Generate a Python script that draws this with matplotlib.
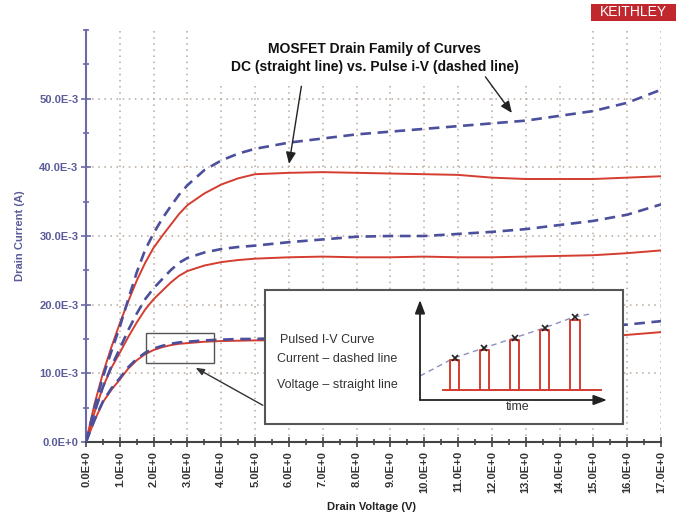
import numpy as np
import matplotlib.pyplot as plt
from matplotlib.patches import Rectangle
from matplotlib.ticker import MultipleLocator, FixedLocator

plt.rcParams['font.family'] = ['Liberation Sans', 'DejaVu Sans']

# Drain voltage (V) and drain currents (mA)
vd = [0, 0.25, 0.5, 0.75, 1, 1.25, 1.5, 1.75, 2, 2.25, 2.5, 2.75, 3, 3.5, 4, 4.5, 5,
      6, 7, 8, 9, 10, 11, 12, 13, 14, 15, 16, 17]
dc_high = [0, 5.5, 10.0, 13.8, 17.3, 20.5, 23.5, 26.1, 28.3, 30.0, 31.6, 33.2, 34.5, 36.2,
           37.5, 38.4, 39.0,
           39.2, 39.3, 39.2, 39.1, 39.0, 38.9, 38.5, 38.3, 38.3, 38.3, 38.5, 38.7]
pulse_high = [0, 5.0, 9.5, 13.2, 16.8, 20.8, 24.7, 28.0, 30.4, 32.5, 34.3, 36.0, 37.4, 39.6,
              41.0, 42.0, 42.7,
              43.6, 44.2, 44.8, 45.2, 45.6, 46.0, 46.4, 46.8, 47.5, 48.2, 49.4, 51.3]
dc_mid = [0, 4.3, 8.0, 10.8, 13.0, 15.3, 17.4, 19.3, 20.8, 22.0, 23.2, 24.2, 24.9, 25.7,
          26.2, 26.5, 26.7,
          26.9, 27.0, 26.9, 26.9, 27.0, 26.9, 26.9, 27.0, 27.1, 27.2, 27.5, 27.9]
pulse_mid = [0, 4.3, 8.0, 11.0, 13.6, 16.3, 18.7, 20.8, 22.4, 23.7, 25.0, 26.1, 26.8, 27.6,
             28.1, 28.4, 28.6,
             29.1, 29.5, 29.9, 30.0, 30.0, 30.3, 30.6, 31.0, 31.6, 32.2, 33.1, 34.6]
dc_low = [0, 3.1, 5.8, 7.6, 9.1, 10.7, 11.9, 12.8, 13.4, 13.8, 14.1, 14.3, 14.4, 14.6,
          14.7, 14.75, 14.8,
          14.8, 14.8, 14.8, 14.9, 14.9, 15.0, 15.0, 15.1, 15.1, 15.2, 15.6, 16.0]
pulse_low = [0, 3.2, 5.9, 7.8, 9.3, 10.9, 12.1, 13.0, 13.6, 14.0, 14.3, 14.5, 14.6, 14.8,
             14.9, 15.0, 15.0,
             15.2, 15.3, 15.4, 15.5, 15.6, 15.8, 16.0, 16.2, 16.5, 16.8, 17.1, 17.6]

x_ticks = list(range(0, 18))
x_labels = ['%d.0E+0' % v for v in x_ticks]
y_ticks = [0, 10, 20, 30, 40, 50]
y_labels = ['0.0E+0', '10.0E-3', '20.0E-3', '30.0E-3', '40.0E-3', '50.0E-3']

# pulse sketch in the inset (arbitrary units)
pulse_start = [30, 59.5, 90, 120, 150]
pulse_width = [8.5, 9, 9, 8.5, 9.5]
pulse_top = [40, 50, 60, 70, 80]
pulse_base = 10
base_range = [22.7, 180.7]
mark_t = [34.5, 64, 94.5, 124.5, 154.5]
mark_lvl = [42, 52.3, 62, 72, 83.5]
trend_t = [0, 34, 64, 94, 124, 154, 170]
trend_lvl = [24, 42, 52, 62, 72, 83, 86]

RED = '#d43d30'
BLUE = '#4b4f9c'

fig = plt.figure(figsize=(6.78, 5.24), dpi=100)
ax = fig.add_axes([86/678, 1-442/524, 575/678, 412/524])

ax.plot(vd, dc_high, color=RED, lw=1.4, zorder=3)
ax.plot(vd, dc_mid, color=RED, lw=1.4, zorder=3)
ax.plot(vd, dc_low, color=RED, lw=1.4, zorder=3)
for ys in (pulse_high, pulse_mid, pulse_low):
    ax.plot(vd, ys, color=BLUE, lw=1.9, dashes=(4, 2.5), zorder=3)

ax.set_xlim(0, 17)
ax.set_ylim(0, 60)
ax.xaxis.set_major_locator(FixedLocator(x_ticks))
ax.xaxis.set_minor_locator(MultipleLocator(0.5))
ax.set_xticklabels(x_labels, rotation=90, fontsize=8, fontweight='bold', color='#333333')
ax.yaxis.set_major_locator(FixedLocator(y_ticks))
ax.yaxis.set_minor_locator(FixedLocator([5, 15, 25, 35, 45, 55, 60]))
ax.set_yticklabels(y_labels, fontsize=8, fontweight='bold', color='#5b5b99')
ax.tick_params(axis='x', which='major', direction='inout', length=7, width=1.2, color='#444444', pad=3)
ax.tick_params(axis='x', which='minor', direction='inout', length=5, width=1.2, color='#444444')
ax.tick_params(axis='y', which='major', direction='inout', length=7, width=1.2, color='#6a6aa8', pad=2)
ax.tick_params(axis='y', which='minor', direction='inout', length=5, width=1.2, color='#6a6aa8')

for s in ('top', 'right'):
    ax.spines[s].set_visible(False)
ax.spines['left'].set_color('#6a6aa8')
ax.spines['left'].set_linewidth(1.5)
ax.spines['bottom'].set_color('#444444')
ax.spines['bottom'].set_linewidth(1.5)

ax.grid(True, which='major', linestyle=(0, (1, 3)), color='#b5a89c', lw=1.1, zorder=0)
ax.set_axisbelow(True)

ax.set_xlabel('Drain Voltage (V)', fontsize=8, fontweight='bold', color='#222222')
ax.xaxis.set_label_coords(0.497, -0.145)
ax.set_ylabel('Drain Current (A)', fontsize=8, fontweight='bold', color='#5b5b99')
ax.yaxis.set_label_coords(-0.106, 0.5)

# white area behind the title
ax.add_patch(Rectangle((3.5, 52.5), 11.0, 8, facecolor='white', edgecolor='none',
                       zorder=1, clip_on=False))
ax.text(8.53, 57.3, 'MOSFET Drain Family of Curves', ha='center', va='center',
        fontsize=10, fontweight='bold', color='#111111', zorder=5)
ax.text(8.53, 54.6, 'DC (straight line) vs. Pulse i-V (dashed line)', ha='center', va='center',
        fontsize=10, fontweight='bold', color='#111111', zorder=5)
ax.annotate('', xy=(5.99, 40.1), xytext=(6.38, 52.2),
            arrowprops=dict(arrowstyle='-|>,head_length=0.7,head_width=0.3', color='#222222',
                            lw=1), zorder=5)
ax.annotate('', xy=(12.64, 47.6), xytext=(11.76, 53.5),
            arrowprops=dict(arrowstyle='-|>,head_length=0.7,head_width=0.3', color='#222222',
                            lw=1), zorder=5)

# small highlight rectangle and call-out box
ax.add_patch(Rectangle((1.77, 11.5), 2.0, 4.4, facecolor='none', edgecolor='#555555',
                       lw=1, zorder=4))
ax.add_patch(Rectangle((5.30, 2.63), 10.58, 19.46, facecolor='white', edgecolor='#555555',
                       lw=1.5, zorder=6))
ax.annotate('', xy=(3.17, 11.0), xytext=(5.30, 5.15),
            arrowprops=dict(arrowstyle='-|>,head_length=0.5,head_width=0.2', color='#333333',
                            lw=1), zorder=6)
ax.text(5.75, 14.92, 'Pulsed I-V Curve', fontsize=9, color='#333333', va='center', zorder=7)
ax.text(5.65, 12.15, 'Current \u2013 dashed line', fontsize=9, color='#333333', va='center', zorder=7)
ax.text(5.65, 8.35, 'Voltage \u2013 straight line', fontsize=9, color='#333333', va='center', zorder=7)

# pulse sketch
ins = fig.add_axes([420/678, 1-400/524, 187/678, 100/524], zorder=10)
ins.set_xlim(0, 187)
ins.set_ylim(0, 100)
ins.axis('off')
ins.plot(trend_t, trend_lvl, color='#8a8fc0', lw=1, dashes=(4, 3))
ins.plot(base_range, [pulse_base, pulse_base], color=RED, lw=1.4)
for t0, w, h in zip(pulse_start, pulse_width, pulse_top):
    ins.plot([t0, t0, t0 + w, t0 + w], [pulse_base, h, h, pulse_base], color=RED, lw=1.4)
ins.plot(mark_t, mark_lvl, 'x', color='#222222', ms=5, mew=1.2)
ins.annotate('', xy=(0, 100), xytext=(0, 0),
             arrowprops=dict(arrowstyle='-|>,head_length=0.8,head_width=0.3', color='#222222',
                             lw=1.3, shrinkA=0, shrinkB=0), annotation_clip=False)
ins.annotate('', xy=(187, 0), xytext=(0, 0),
             arrowprops=dict(arrowstyle='-|>,head_length=0.8,head_width=0.3', color='#222222',
                             lw=1.3, shrinkA=0, shrinkB=0), annotation_clip=False)
ins.text(98, -7, 'time', ha='center', va='center', fontsize=9, color='#333333')

# logo
fig.patches.append(Rectangle((591/678, 1-21/524), 85/678, 17/524, transform=fig.transFigure,
                             facecolor='#c0282d', edgecolor='none'))
fig.text(633/678, 1-12.5/524, 'KEITHLEY', ha='center', va='center', color='white', fontsize=10)

fig.savefig('out.png', dpi=100)
